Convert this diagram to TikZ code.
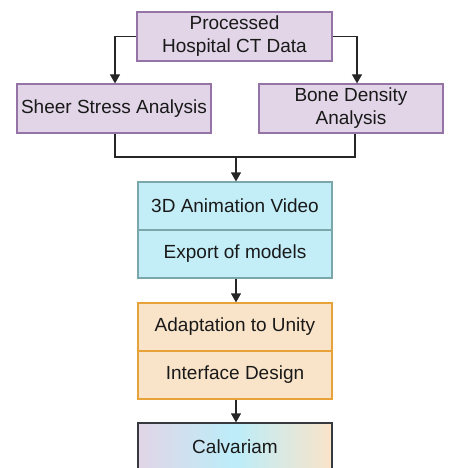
\documentclass[tikz,border=0pt]{standalone}
\usepackage{fontspec}
\setmainfont{Liberation Sans}
\usetikzlibrary{arrows.meta}
\definecolor{pfill}{HTML}{E1D5E7}
\definecolor{pline}{HTML}{9673A6}
\definecolor{cfill}{HTML}{C3EEF8}
\definecolor{cline}{HTML}{7BA6AA}
\definecolor{ofill}{HTML}{FAE4C9}
\definecolor{oline}{HTML}{E8A23A}
\definecolor{gline}{HTML}{36393D}
\definecolor{gmid}{HTML}{BCEDF9}
\pgfdeclarehorizontalshading{calvshade}{100bp}{
  color(0bp)=(pfill); color(25bp)=(pfill); color(50bp)=(gmid);
  color(75bp)=(ofill); color(100bp)=(ofill)}
\tikzset{
  box/.style={rectangle, draw, line width=1.2pt, inner sep=2pt, align=center,
    font=\fontsize{19}{23}\selectfont, text=black!90},
  pbox/.style={box, draw=pline, fill=pfill, minimum height=49pt},
  cbox/.style={box, draw=cline, fill=cfill, minimum width=194pt, minimum height=48pt},
  obox/.style={box, draw=oline, fill=ofill, minimum width=194pt, minimum height=48pt},
  gbox/.style={box, draw=gline, shading=calvshade, minimum width=194pt, minimum height=48pt},
  conn/.style={line width=1.2pt, draw=black!85},
  arr/.style={conn, -{Triangle[width=10pt,length=9pt]}}
}
\begin{document}
\begin{tikzpicture}[x=1pt,y=-1pt]
\useasboundingbox (0,0) rectangle (448,468);
\node[pbox, minimum width=195pt] (top) at (234.5,36.5) {Processed\\Hospital CT Data};
\node[pbox, minimum width=194pt] (left) at (114,108.5) {Sheer Stress Analysis};
\node[pbox, minimum width=184pt] (right) at (351,108.5) {Bone Density\\Analysis};
\node[cbox] (anim) at (235,206) {3D Animation Video};
\node[cbox] (export) at (235,254) {Export of models};
\node[obox] (unity) at (235,327) {Adaptation to Unity};
\node[obox] (iface) at (235,375) {Interface Design};
\node[gbox] (calv) at (235,447) {Calvariam};
\coordinate (j) at (236,157);
\draw[arr] (top.west) -| ([xshift=1pt]left.north);
\draw[arr] (top.east) -| ([xshift=6pt]right.north);
\draw[conn] ([xshift=1pt]left.south) |- (j) -| ([xshift=4pt]right.south);
\draw[arr] (j) -- (anim.north -| j);
\draw[arr] ([xshift=1pt]export.south) -- ([xshift=1pt]unity.north);
\draw[arr] ([xshift=1pt]iface.south) -- ([xshift=1pt]calv.north);
\end{tikzpicture}
\end{document}
